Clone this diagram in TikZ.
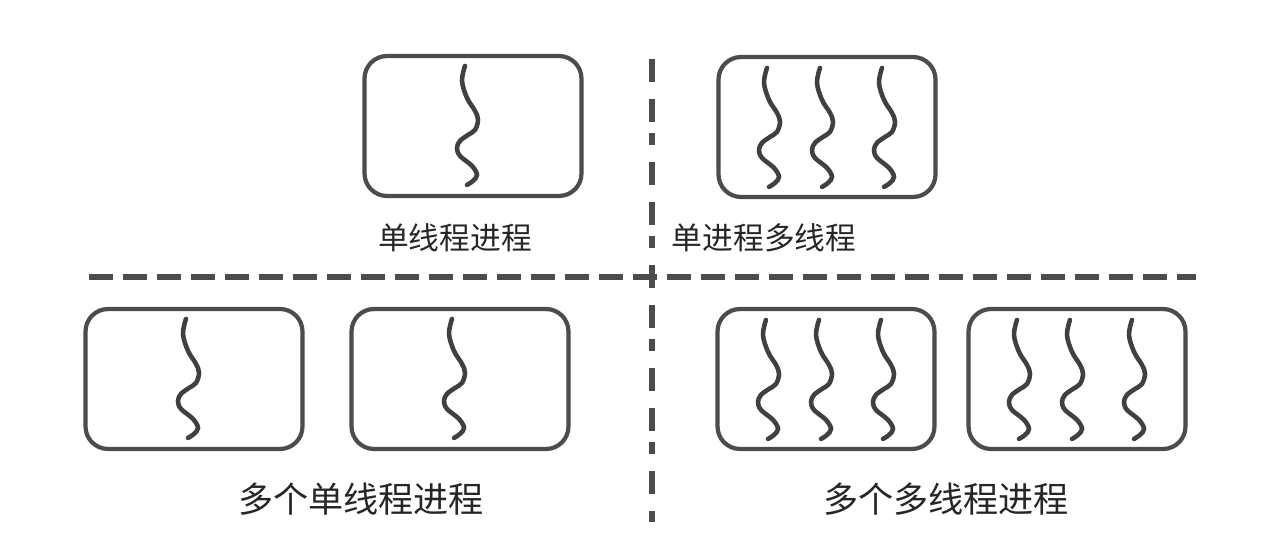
\documentclass[tikz,border=0pt]{standalone}
\usepackage{fontspec}
\newfontfamily\cjk{Noto Sans CJK SC}
\usetikzlibrary{positioning}
\tikzset{
  proc/.style={draw=black!70, line width=2.4pt, rounded corners=0.45cm,
    minimum width=4.34cm, minimum height=2.8cm, inner sep=0pt},
  thr/.style={draw=black!75, line width=2.6pt, line cap=round},
  sep/.style={draw=black!70, line width=3pt},
  toplabel/.style={font=\cjk\fontsize{17.5}{21}\selectfont, text=black!85},
  botlabel/.style={font=\cjk\fontsize{20}{24}\selectfont, text=black!85},
  pics/thread/.style={code={
    \draw[thr] plot[smooth, tension=0.6] coordinates {(0,0) (-3,15) (2,32)
      (10,45) (13,54) (10,64) (3,69) (-5,75) (-8,82) (-5,90) (7,100)
      (12,109) (8,115) (2,119)};
  }},
}

\begin{document}
\begin{tikzpicture}[x=0.02cm, y=-0.02cm]
  \useasboundingbox (0,0) rectangle (1273,546);

  % processes
  \node[proc] (single) at (473,126) {};
  \node[proc] (multi) at (827,127) {};
  \node[proc] (singleA) at (194,379) {};
  \node[proc] (singleB) at (460,379) {};
  \node[proc] (multiA) at (826,379) {};
  \node[proc] (multiB) at (1077,379) {};

  % threads
  \foreach \b in {single,singleA,singleB}
    \path (\b.north) ++(-8,12) pic {thread};
  \foreach \b in {multi,multiA,multiB}
    \foreach \dx in {-60,-7,55}
      \path (\b.north) ++(\dx,13) pic {thread};

  % labels
  \node[toplabel] (lsingle) at (455,238) {单线程进程};
  \node[toplabel] (lmulti) at (764,238) {单进程多线程};
  \node[botlabel] (lsingles) at (361,499) {多个单线程进程};
  \node[botlabel] (lmultis) at (946,499) {多个多线程进程};

  % separators
  \coordinate (hl) at (89,277);
  \coordinate (hr) at (1196,277);
  \coordinate (vt) at (652,59);
  \coordinate (vb) at (652,522);
  \draw[sep, dash pattern=on 0.48cm off 0.2cm] (hl) -- (hr);
  \draw[sep, dash pattern=on 0.46cm off 0.34cm on 0.46cm off 0.22cm on 0.24cm off 0.34cm] (vt) -- (vb);
\end{tikzpicture}
\end{document}
